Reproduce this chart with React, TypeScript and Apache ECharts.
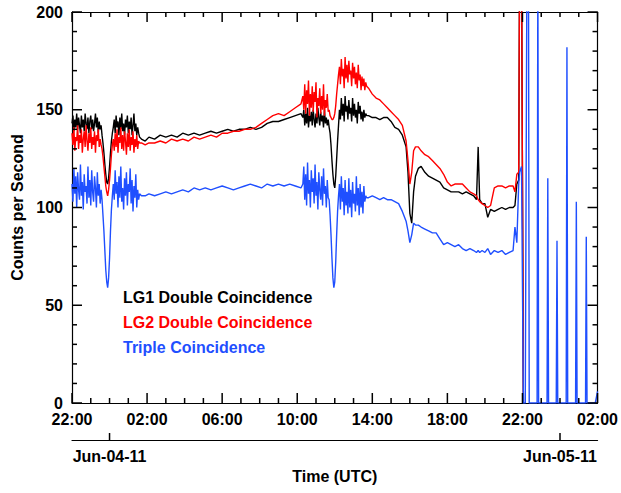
import React, { useEffect, useRef } from "react";
import * as echarts from "echarts";

// Hours since 22:00 (Jun-03-11). Segment A: noisy start
const hoursA = [0, 0.05, 0.1, 0.15, 0.2, 0.25, 0.3, 0.35, 0.4, 0.45, 0.5, 0.55, 0.6, 0.65, 0.7, 0.75, 0.8, 0.85, 0.9, 0.95, 1.0, 1.05, 1.1, 1.15, 1.2, 1.25, 1.3, 1.35, 1.4, 1.45, 1.5, 1.55, 1.6, 1.65, 1.7, 1.75, 1.8, 1.85, 1.9, 1.95, 2.0, 2.05, 2.1, 2.15, 2.2, 2.25, 2.3, 2.35, 2.4, 2.45, 2.5, 2.55, 2.6, 2.65, 2.7, 2.75, 2.8, 2.85, 2.9, 2.95, 3.0, 3.05, 3.1, 3.15, 3.2, 3.25, 3.3, 3.35, 3.4, 3.45, 3.5, 3.55, 3.6];
const lg1A = [143, 147, 139, 145, 141, 148, 140, 146, 142, 138, 147, 141, 145, 139, 148, 143, 140, 146, 138, 144, 147, 140, 145, 139, 143, 148, 141, 146, 138, 144, 140, 142, 137, 133, 128, 122, 117, 113, 112, 115, 121, 128, 134, 138, 141, 145, 138, 147, 141, 144, 137, 146, 140, 148, 139, 143, 137, 145, 141, 147, 138, 144, 140, 146, 137, 142, 148, 139, 143, 137, 141, 138, 136];
const lg2A = [138, 132, 141, 129, 136, 134, 142, 130, 137, 133, 140, 128, 135, 139, 131, 142, 134, 129, 138, 133, 141, 130, 136, 132, 139, 128, 137, 134, 140, 131, 135, 132, 130, 126, 121, 116, 111, 108, 106, 109, 114, 120, 127, 132, 135, 129, 138, 131, 140, 128, 136, 133, 141, 130, 137, 129, 139, 134, 127, 138, 131, 140, 129, 136, 132, 139, 128, 135, 131, 137, 130, 134, 133];
const tripleA = [112, 103, 120, 107, 116, 100, 118, 109, 104, 122, 106, 113, 99, 117, 108, 111, 102, 121, 105, 114, 101, 119, 108, 103, 116, 110, 100, 118, 106, 112, 102, 109, 104, 96, 88, 78, 68, 62, 59, 64, 74, 88, 99, 106, 112, 104, 119, 107, 113, 100, 116, 105, 121, 103, 110, 99, 115, 106, 118, 101, 112, 108, 120, 102, 114, 98, 111, 105, 117, 100, 109, 104, 107];

// Smooth middle section
const hoursM = [3.7, 3.9, 4.1, 4.4, 4.7, 5.0, 5.3, 5.6, 5.9, 6.2, 6.5, 6.8, 7.1, 7.4, 7.7, 8.0, 8.3, 8.6, 8.9, 9.2, 9.5, 9.8, 10.1, 10.4, 10.7, 11.0, 11.3, 11.6, 11.9, 12.2];
const lg1M = [135, 134, 136, 135, 137, 136, 137, 136, 138, 137, 138, 137, 138, 139, 138, 139, 140, 139, 140, 140, 141, 140, 141, 143, 144, 144, 145, 146, 147, 148];
const lg2M = [133, 132, 133, 133, 134, 133, 135, 134, 135, 134, 136, 135, 136, 137, 136, 138, 138, 139, 139, 140, 140, 141, 143, 145, 147, 148, 147, 149, 151, 153];
const tripleM = [106, 106, 107, 106, 107, 108, 107, 108, 109, 108, 110, 109, 110, 109, 110, 111, 110, 109, 110, 111, 112, 111, 110, 112, 111, 112, 111, 112, 111, 110];

// Segment B: second noisy section
const hoursB = [12.3, 12.35, 12.4, 12.45, 12.5, 12.55, 12.6, 12.65, 12.7, 12.75, 12.8, 12.85, 12.9, 12.95, 13.0, 13.05, 13.1, 13.15, 13.2, 13.25, 13.3, 13.35, 13.4, 13.45, 13.5, 13.55, 13.6, 13.65, 13.7, 13.75, 13.8, 13.85, 13.9, 13.95, 14.0, 14.05, 14.1, 14.15, 14.2, 14.25, 14.3, 14.35, 14.4, 14.45, 14.5, 14.55, 14.6, 14.65, 14.7, 14.75, 14.8, 14.85, 14.9, 14.95, 15.0, 15.05, 15.1, 15.15, 15.2, 15.25, 15.3, 15.35, 15.4, 15.45, 15.5, 15.55, 15.6, 15.65, 15.7];
const lg1B = [146, 150, 142, 148, 143, 151, 141, 147, 144, 149, 142, 150, 145, 141, 148, 143, 151, 146, 142, 149, 144, 147, 141, 150, 143, 146, 142, 145, 141, 138, 132, 124, 117, 112, 110, 116, 125, 134, 142, 150, 145, 156, 147, 153, 144, 157, 149, 152, 145, 155, 148, 151, 144, 156, 147, 153, 146, 150, 143, 154, 148, 152, 145, 149, 144, 150, 146, 148, 147];
const lg2B = [157, 150, 163, 148, 160, 153, 165, 147, 158, 151, 162, 149, 159, 154, 164, 146, 156, 152, 161, 148, 157, 150, 163, 147, 155, 151, 158, 149, 150, 147, 146, 145, 145, 146, 148, 152, 158, 163, 168, 172, 163, 176, 167, 171, 161, 177, 166, 173, 164, 175, 168, 170, 162, 174, 166, 172, 163, 169, 161, 173, 165, 168, 160, 167, 162, 166, 160, 164, 162];
const tripleB = [112, 121, 104, 117, 101, 123, 107, 114, 100, 119, 108, 115, 102, 122, 106, 113, 99, 118, 109, 104, 116, 101, 120, 107, 111, 100, 114, 105, 104, 96, 86, 74, 64, 59, 62, 72, 86, 98, 106, 112, 99, 116, 103, 110, 96, 114, 101, 108, 97, 115, 100, 109, 95, 113, 102, 107, 98, 116, 101, 110, 96, 112, 100, 108, 97, 111, 103, 106, 105];

// Late section up to the saturation near 22:00
const hoursL = [15.8, 16.0, 16.2, 16.4, 16.6, 16.8, 17.0, 17.2, 17.4, 17.6, 17.8, 17.9, 18.0, 18.1, 18.2, 18.3, 18.45, 18.6, 18.8, 19.0, 19.2, 19.4, 19.6, 19.8, 20.0, 20.2, 20.4, 20.6, 20.8, 21.0, 21.2, 21.4, 21.55, 21.64, 21.72, 21.85, 22.0, 22.15, 22.3, 22.5, 22.7, 22.9, 23.1, 23.3, 23.5, 23.6, 23.7, 23.8, 23.85, 23.95, 24.05];
const lg1L = [147, 146, 146, 145, 146, 146, 144, 141, 140, 137, 131, 118, 97, 92, 108, 116, 120, 121, 118, 116, 115, 114, 113, 110, 109, 108, 108, 108, 107, 108, 107, 106, 104, 131, 104, 102, 102, 95, 99, 98, 99, 100, 99, 100, 100, 101, 112, 114, 230, 230, 0];
const lg2L = [161, 158, 156, 155, 153, 151, 149, 147, 145, 142, 134, 124, 112, 118, 129, 131, 131, 129, 127, 126, 124, 122, 120, 117, 113, 111, 112, 112, 112, 110, 108, 107, 106, 104, 103, 102, 101, 100, 101, 110, 111, 111, 110, 111, 111, 108, 117, 118, 230, 230, 0];
const tripleL = [105, 106, 105, 104, 105, 104, 104, 103, 102, 98, 93, 88, 82, 86, 92, 91, 91, 90, 89, 88, 87, 87, 84, 81, 82, 81, 80, 81, 79, 78, 79, 78, 77, 78, 77, 78, 77, 79, 76, 78, 77, 78, 76, 77, 78, 90, 82, 112, 118, 121, 0];

// Triple coincidence spikes after 22:00 (Jun-05)
const hoursTail = [24.15, 24.24, 24.32, 24.36, 24.78, 24.82, 24.86, 25.31, 25.35, 25.39, 25.8, 25.84, 25.88, 26.33, 26.37, 26.41, 26.83, 26.87, 26.91, 27.36, 27.4, 27.44, 27.88, 28];
const tripleTail = [0, 230, 230, 0, 0, 230, 0, 0, 115, 0, 0, 83, 0, 0, 182, 0, 0, 103, 0, 0, 85, 0, 0, 6];

const xTickLabels = ["22:00", "02:00", "06:00", "10:00", "14:00", "18:00", "22:00", "02:00"];
const dateTickHours = [2, 26];
const dateLabels = ["Jun-04-11", "Jun-05-11"];
const legendNames = ["LG1 Double Coincidence", "LG2 Double Coincidence", "Triple Coincidence"];
const colors = ["#000000", "#ff0000", "#1f4fff"];

// Tick positions (axis values) for the mirrored inward ticks
const xMajorTicks = [0, 4, 8, 12, 16, 20, 24, 28];
const xMinorTicks = [1, 2, 3, 5, 6, 7, 9, 10, 11, 13, 14, 15, 17, 18, 19, 21, 22, 23, 25, 26, 27];
const yMajorTicks = [0, 50, 100, 150, 200];
const yMinorTicks = [10, 20, 30, 40, 60, 70, 80, 90, 110, 120, 130, 140, 160, 170, 180, 190];

const FONT = '"Liberation Sans", Arial, Helvetica, sans-serif';
const MAJOR_LEN = 10;
const MINOR_LEN = 5;
const DATE_TICK_LEN = 7;
const DATE_OFFSET = 37;
const TICK_W = 1.5;

function zip(h: number[], v: number[]) {
  return h.map((x, i) => [x, v[i]]);
}

export default function App() {
  const ref = useRef<HTMLDivElement>(null);
  useEffect(() => {
    if (!ref.current) return;
    const chart = echarts.init(ref.current, undefined, { renderer: "svg" });
    const hoursAll = [...hoursA, ...hoursM, ...hoursB, ...hoursL];
    const lg1 = zip(hoursAll, [...lg1A, ...lg1M, ...lg1B, ...lg1L]);
    const lg2 = zip(hoursAll, [...lg2A, ...lg2M, ...lg2B, ...lg2L]);
    const triple = zip(
      [...hoursAll, ...hoursTail],
      [...tripleA, ...tripleM, ...tripleB, ...tripleL, ...tripleTail]
    );
    const hourCats = Array.from({ length: 29 }, (_, i) => String(i));
    const isDateTick = (i: number) => dateTickHours.indexOf(i) >= 0;

    const labelStyle = { color: "#000", fontSize: 16, fontWeight: "bold" as const, fontFamily: FONT };
    const axisLine = { show: true, onZero: false, lineStyle: { color: "#000", width: 1.2 } };
    const baseX = {
      type: "value" as const,
      min: 0,
      max: 28,
      interval: 4,
      splitLine: { show: false },
      axisLine,
      axisTick: { show: false },
      minorTick: { show: false },
    };
    const legendEls = legendNames.map((name, i) => ({
      type: "text",
      x: 123,
      y: 297 + i * 25,
      silent: true,
      style: {
        text: name,
        fill: colors[i],
        font: `bold 16px ${FONT}`,
        verticalAlign: "middle",
      },
    }));
    chart.setOption({
      animation: false,
      grid: { left: 72, right: 21, top: 12, bottom: 90 },
      xAxis: [
        {
          ...baseX,
          position: "bottom",
          axisLabel: {
            ...labelStyle,
            margin: 8,
            showMinLabel: true,
            showMaxLabel: true,
            formatter: (v: number) => xTickLabels[Math.round(v / 4)] ?? "",
          },
        },
        {
          ...baseX,
          position: "top",
          axisLabel: { show: false },
        },
        {
          type: "category",
          data: hourCats,
          boundaryGap: false,
          position: "bottom",
          offset: DATE_OFFSET,
          axisLine,
          splitLine: { show: false },
          axisTick: { show: false },
          axisLabel: {
            ...labelStyle,
            margin: 8,
            interval: (i: number) => isDateTick(i),
            formatter: (v: string) => {
              const k = dateTickHours.indexOf(Number(v));
              return k >= 0 ? dateLabels[k] : "";
            },
          },
          name: "Time (UTC)",
          nameLocation: "middle",
          nameGap: 27,
          nameTextStyle: labelStyle,
        },
      ],
      yAxis: [
        {
          type: "value",
          min: 0,
          max: 200,
          interval: 50,
          position: "left",
          splitLine: { show: false },
          axisLine,
          axisTick: { show: false },
          minorTick: { show: false },
          axisLabel: { ...labelStyle, margin: 9 },
          name: "Counts per Second",
          nameLocation: "middle",
          nameGap: 47,
          nameTextStyle: labelStyle,
        },
        {
          type: "value",
          min: 0,
          max: 200,
          interval: 50,
          position: "right",
          splitLine: { show: false },
          axisLine,
          axisTick: { show: false },
          minorTick: { show: false },
          axisLabel: { show: false },
        },
      ],
      series: [
        { name: legendNames[0], type: "line", data: lg1, showSymbol: false, symbol: "none", lineStyle: { color: colors[0], width: 1.4 }, itemStyle: { color: colors[0] } },
        { name: legendNames[1], type: "line", data: lg2, showSymbol: false, symbol: "none", lineStyle: { color: colors[1], width: 1.4 }, itemStyle: { color: colors[1] } },
        { name: legendNames[2], type: "line", data: triple, showSymbol: false, symbol: "none", lineStyle: { color: colors[2], width: 1.4 }, itemStyle: { color: colors[2] } },
      ],
      graphic: { elements: legendEls },
    });

    // Tick marks as filled rects, positioned through the axes' own scales
    const tickEls: any[] = [];
    try {
      const px = (h: number) => chart.convertToPixel({ xAxisIndex: 0 }, h) as unknown as number;
      const py = (v: number) => chart.convertToPixel({ yAxisIndex: 0 }, v) as unknown as number;
      const yBottom = py(0);
      const yTop = py(200);
      const xLeft = px(0);
      const xRight = px(28);
      const addX = (h: number, len: number) => {
        const x = px(h) - TICK_W / 2;
        tickEls.push({ type: "rect", silent: true, z: 10, shape: { x, y: yBottom - len, width: TICK_W, height: len }, style: { fill: "#000" } });
        tickEls.push({ type: "rect", silent: true, z: 10, shape: { x, y: yTop, width: TICK_W, height: len }, style: { fill: "#000" } });
      };
      const addY = (v: number, len: number) => {
        const y = py(v) - TICK_W / 2;
        tickEls.push({ type: "rect", silent: true, z: 10, shape: { x: xLeft, y, width: len, height: TICK_W }, style: { fill: "#000" } });
        tickEls.push({ type: "rect", silent: true, z: 10, shape: { x: xRight - len, y, width: len, height: TICK_W }, style: { fill: "#000" } });
      };
      xMajorTicks.forEach((h) => addX(h, MAJOR_LEN));
      xMinorTicks.forEach((h) => addX(h, MINOR_LEN));
      yMajorTicks.forEach((v) => addY(v, MAJOR_LEN));
      yMinorTicks.forEach((v) => addY(v, MINOR_LEN));
      dateTickHours.forEach((h) => {
        tickEls.push({
          type: "rect",
          silent: true,
          z: 10,
          shape: { x: px(h) - TICK_W / 2, y: yBottom + DATE_OFFSET - DATE_TICK_LEN, width: TICK_W, height: DATE_TICK_LEN },
          style: { fill: "#000" },
        });
      });
    } catch (e) {
      // keep the chart even if pixel conversion fails
    }
    if (tickEls.length) {
      chart.setOption({ graphic: { elements: [...legendEls, ...tickEls] } });
    }
    return () => chart.dispose();
  }, []);
  return (
    <div
      ref={ref}
      style={{ position: "fixed", left: 0, top: 0, width: 621, height: 493, background: "#fff" }}
    />
  );
}
